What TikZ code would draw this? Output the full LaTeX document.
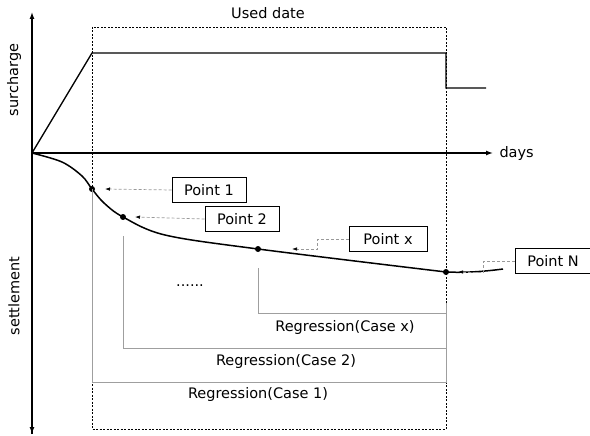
\documentclass[tikz,border=0pt]{standalone}
\usepackage{fontspec}
\setmainfont{DejaVu Sans}
\usetikzlibrary{arrows.meta}
\newcommand{\drawthick}{\draw[line width=1.3pt]}
\tikzset{
  lbl/.style={font=\fontsize{14.5}{16}\selectfont},
  ptbox/.style={draw, line width=0.7pt, lbl, minimum width=74pt, minimum height=25pt, inner sep=2pt},
  ptr/.style={gray!80, densely dashed, line width=0.7pt, -{Latex[black,length=5pt,width=3.5pt]}},
  bracket/.style={gray!75, line width=0.9pt},
  dot/.style={circle, fill=black, inner sep=0pt, minimum size=6pt}
}
\begin{document}
\begin{tikzpicture}[x=1pt,y=-1pt]
\useasboundingbox (0,0) rectangle (590,436);
% used date window
\draw[line width=0.6pt, dash pattern=on 2pt off 1.5pt] (92,27) rectangle (446,429);
\node[lbl] (used) at (268,13) {Used date};
% axes
\coordinate (o) at (32,153);
\drawthick[-{Latex[length=7pt,width=5pt]}] (32,434) -- (32,12);
\drawthick[-{Latex[length=7pt,width=5pt]}] (o) -- (493,153);
\drawthick[-{Latex[length=7pt,width=5pt]}] (o) -- (32,434);
\node[lbl, anchor=west] (days) at (496,153) {days};
\node[lbl, rotate=90] (sur) at (14,80) {surcharge};
\node[lbl, rotate=90] (set) at (14,296) {settlement};
% surcharge
\drawthick (o) -- (92,53) -- (446,53) -- (446,88) -- (486,88);
% settlement curve
\coordinate (p1) at (92,189);
\coordinate (p2) at (123,217);
\coordinate (px) at (258,249);
\coordinate (pN) at (446,272);
\draw[line width=1.5pt] plot[smooth, tension=0.55] coordinates {(o) (62,162) (82,176) (p1) (104,203) (p2) (165,235) (px) (pN)};
\draw[line width=1.5pt] (pN) .. controls (468,273) and (488,271) .. (503,269);
\foreach \p in {p1,p2,px,pN}{
  \node[dot] at (\p) {};
}
% regression ranges
\draw[bracket] (px) ++(0,19) -- (258,313) -- (446,313) -- (446,303);
\draw[bracket] (p2) ++(0,19) -- (123,348) -- (446,348) -- (446,313);
\draw[bracket] (p1) -- (92,382) -- (446,382) -- (446,348);
\node[lbl] (rx) at (345,327) {Regression(Case x)};
\node[lbl] (r2) at (286,361) {Regression(Case 2)};
\node[lbl] (r1) at (258,394) {Regression(Case 1)};
\node[lbl] (dots) at (190,286) {......};
% point labels
\node[ptbox] (b1) at (209,190) {Point 1};
\node[ptbox] (b2) at (242,219) {Point 2};
\node[ptbox, minimum width=78pt] (bx) at (388,239) {Point x};
\node[ptbox, minimum width=76pt] (bN) at (553,261) {Point N};
\draw[ptr] (b1.west) -- ([xshift=13pt]p1);
\draw[ptr] (b2.west) -- ([xshift=12pt]p2);
\draw[ptr] (bx.west) -- ++(-31,0) |- ([xshift=34pt]px);
\draw[ptr] (bN.west) -- ++(-31,0) |- ([xshift=12pt]pN);
\end{tikzpicture}
\end{document}
